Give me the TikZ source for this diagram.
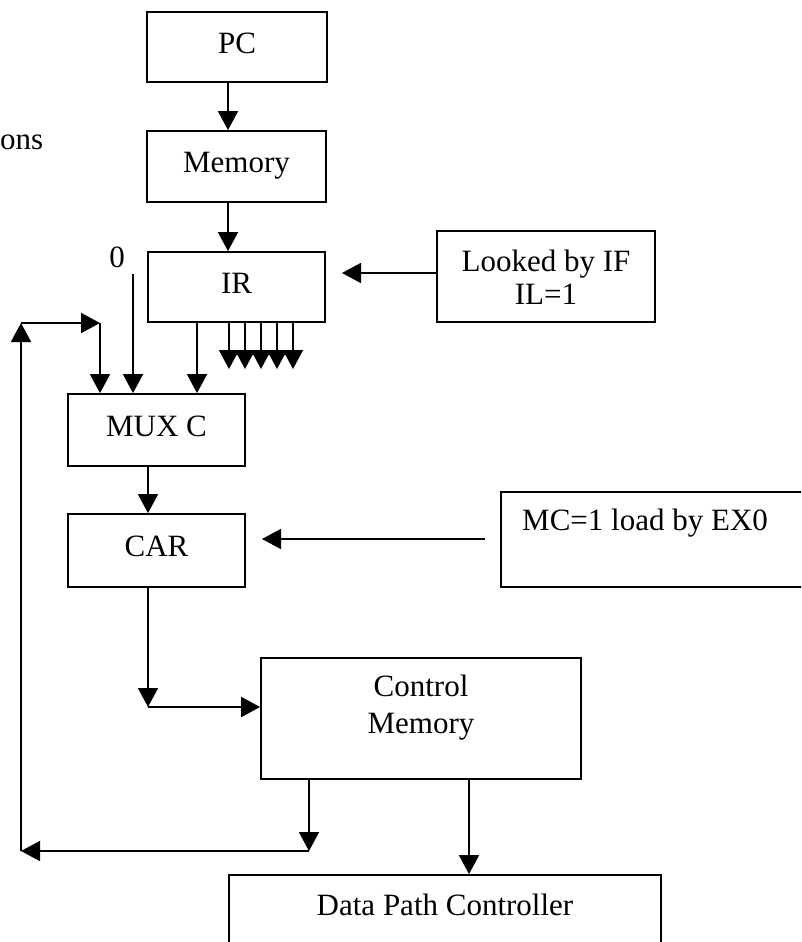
\documentclass[tikz,border=0pt]{standalone}
\usepackage{fontspec}
\setmainfont{Liberation Serif}
\usetikzlibrary{arrows.meta,calc}
\tikzset{
  box/.style={draw, line width=1.8pt, inner sep=0pt, align=center, text depth=8pt, font=\fontsize{31}{37}\selectfont},
  lbl/.style={inner sep=0pt, align=center, font=\fontsize{31}{37}\selectfont},
  arr/.style={line width=1.8pt, -{Triangle[length=19pt,width=20pt]}},
}
\begin{document}
\begin{tikzpicture}[x=1pt,y=-1pt]
\useasboundingbox (0,0) rectangle (801,942);
\clip (0,0) rectangle (801,942);
% boxes
\node[box, minimum width=180pt, minimum height=70pt] (pc) at (237,47) {PC};
\node[box, minimum width=179pt, minimum height=71pt] (mem) at (236.5,166.5) {Memory};
\node[box, minimum width=177pt, minimum height=70pt] (ir) at (236.5,287) {IR};
\node[box, minimum width=218pt, minimum height=91pt] (look) at (546,276.5) {};
\node[lbl, font=\fontsize{31}{33}\selectfont] (looktext) at (546,277) {Looked by IF\\IL=1};
\node[box, minimum width=177pt, minimum height=72pt] (mux) at (156.5,430) {MUX C};
\node[box, minimum width=177pt, minimum height=73pt] (car) at (156.5,550.5) {CAR};
\node[box, minimum width=320pt, minimum height=95pt] (mc) at (661,539.5) {};
\node[lbl, anchor=west] (mctext) at (522,523) {MC=1 load by EX0};
\node[box, minimum width=320pt, minimum height=121pt] (cm) at (421,718.5) {};
\node[lbl] (cmtext) at (421,708) {Control\\Memory};
\node[box, minimum width=432pt, minimum height=90pt] (dpc) at (445,920) {};
\node[lbl] (dpctext) at (445,905) {Data Path Controller};
\node[lbl] (zero) at (117,257) {0};
\node[lbl, anchor=west] (ons) at (0,142) {ons};
% coordinates
\coordinate (zeroTop) at (133,274);
\coordinate (fbB) at (21,851);
\coordinate (fbT) at (21,323);
\coordinate (fbR) at (100,323);
\coordinate (cmA) at (309,851);
\coordinate (lookS) at (437,273);
\coordinate (lookE) at (342,273);
\coordinate (mcS) at (485,539);
\coordinate (mcE) at (262,539);
\coordinate (carTurn) at (148,707);
% connectors
\draw[arr] (228,0 |- pc.south) -- (228,0 |- mem.north);
\draw[arr] (228,0 |- mem.south) -- (228,0 |- ir.north);
\draw[arr] (lookS) -- (lookE);
\draw[arr] (zeroTop) -- (zeroTop |- mux.north);
\draw[arr] (fbB) -- (fbT);
\draw[arr] (fbT) -- (fbR);
\draw[arr] (fbR) -- (fbR |- mux.north);
\draw[arr] (197,0 |- ir.south) -- (197,0 |- mux.north);
\foreach \x in {229,245,261,277,293} {
  \draw[arr] (\x,0 |- ir.south) -- (\x,369);
}
\draw[arr] (148,0 |- mux.south) -- (148,0 |- car.north);
\draw[arr] (mcS) -- (mcE);
\draw[arr] (148,0 |- car.south) -- (carTurn);
\draw[arr] (carTurn) -- (carTurn -| cm.west);
\draw[arr] (cmA |- cm.south) -- (cmA);
\draw[arr] (cmA) -- (fbB);
\draw[arr] (469,0 |- cm.south) -- (469,0 |- dpc.north);
\end{tikzpicture}
\end{document}
